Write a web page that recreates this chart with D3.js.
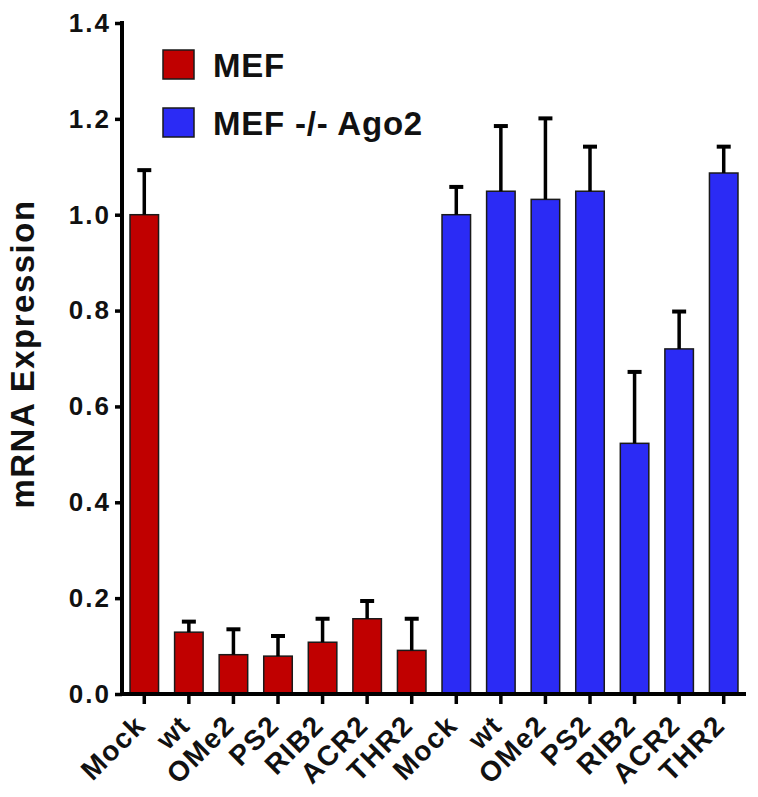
<!DOCTYPE html>
<html><head><meta charset="utf-8">
<script src="https://cdn.jsdelivr.net/npm/d3@7"></script>
<style>body{margin:0;background:#fff}svg{display:block}text{font-family:"Liberation Sans",Arial,sans-serif;font-weight:bold}</style>
</head><body><svg id="c" width="758" height="797"></svg>
<script>
const categories = ["Mock","wt","OMe2","PS2","RIB2","ACR2","THR2"];
const seriesNames = ["MEF","MEF -/- Ago2"];
const mefValues = [1.0,0.129,0.082,0.079,0.108,0.157,0.091];
const mefErrors = [0.093,0.022,0.053,0.042,0.049,0.037,0.066];
const ago2Values = [1.0,1.049,1.032,1.049,0.523,0.72,1.087];
const ago2Errors = [0.058,0.136,0.169,0.093,0.149,0.078,0.055];
const yTicks = [0.0,0.2,0.4,0.6,0.8,1.0,1.2,1.4];
const colors = ["#c00000","#2b2bf5"];

const svg = d3.select("#c");
const rows = [];
categories.forEach((c,i)=>rows.push({key:"a"+i,label:c,v:mefValues[i],e:mefErrors[i],s:0}));
categories.forEach((c,i)=>rows.push({key:"b"+i,label:c,v:ago2Values[i],e:ago2Errors[i],s:1}));

const x = d3.scaleBand().domain(rows.map(d=>d.key)).range([122,746]).paddingInner(0.36).paddingOuter(0.18);
const y = d3.scaleLinear().domain([0,1.4]).range([694,23]);

// bars
svg.selectAll("rect.bar").data(rows).join("rect")
  .attr("x",d=>x(d.key)).attr("width",x.bandwidth())
  .attr("y",d=>y(d.v)).attr("height",d=>y(0)-y(d.v))
  .attr("fill",d=>colors[d.s]).attr("stroke","#1a1a1a").attr("stroke-width",1.5);

// error bars
const eg = svg.append("g").attr("stroke","#000").attr("stroke-width",3.5);
rows.forEach(d=>{
  const cx = x(d.key)+x.bandwidth()/2;
  eg.append("line").attr("x1",cx).attr("x2",cx).attr("y1",y(d.v)).attr("y2",y(d.v+d.e));
  eg.append("line").attr("x1",cx-7).attr("x2",cx+7).attr("y1",y(d.v+d.e)).attr("y2",y(d.v+d.e)).attr("stroke-width",4);
});

// y axis
const ya = svg.append("g").attr("transform","translate(122,0)")
  .call(d3.axisLeft(y).tickValues(yTicks).tickFormat(d3.format(".1f")).tickSize(7).tickPadding(4));
ya.select(".domain").attr("stroke-width",4).attr("d","M0,21V696");
ya.selectAll(".tick line").attr("stroke-width",3.5);
ya.selectAll(".tick text").attr("font-size",26).attr("letter-spacing",2).attr("fill","#111");

// x axis
const xa = svg.append("g").attr("transform","translate(0,694)")
  .call(d3.axisBottom(x).tickFormat(k=>rows.find(r=>r.key===k).label).tickSize(10).tickPadding(0));
xa.select(".domain").attr("stroke-width",4).attr("d","M120,0H746");
xa.selectAll(".tick line").attr("stroke-width",3.5);
xa.selectAll(".tick text").attr("font-size",28).attr("letter-spacing",1.5).attr("fill","#111")
  .attr("text-anchor","end").attr("x",0).attr("y",0).attr("dy",0)
  .attr("transform","translate(3,33) rotate(-45)");

// y label
svg.append("text").attr("transform","translate(34,354) rotate(-90)")
  .attr("text-anchor","middle").attr("font-size",33).attr("letter-spacing",1.5).attr("fill","#111").text("mRNA Expression");

// legend
seriesNames.forEach((n,i)=>{
  const g = svg.append("g").attr("transform",`translate(163,${50+i*58})`);
  g.append("rect").attr("width",31).attr("height",29).attr("fill",colors[i]).attr("stroke","#1a1a1a").attr("stroke-width",1.5);
  g.append("text").attr("x",50).attr("y",27).attr("font-size",33).attr("letter-spacing",0.8).attr("fill","#111").text(n);
});
</script></body></html>
